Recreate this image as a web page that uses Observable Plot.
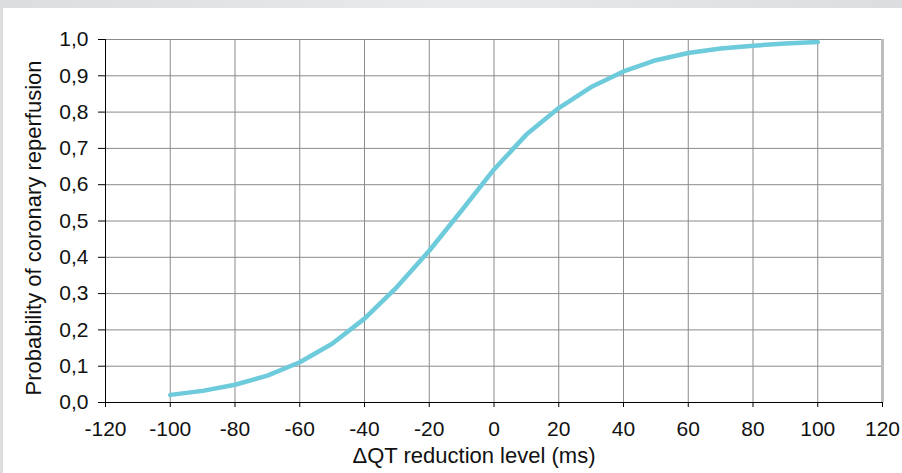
<!DOCTYPE html>
<html><head><meta charset="utf-8">
<script src="https://cdn.jsdelivr.net/npm/d3@7"></script>
<script src="https://cdn.jsdelivr.net/npm/@observablehq/plot@0.6"></script>
<style>
html,body{margin:0;padding:0;background:#fff;}
#wrap{position:relative;width:902px;height:473px;overflow:hidden;}
#topband{position:absolute;left:0;top:0;width:902px;height:8px;background:linear-gradient(to right,#dcdddf,#e9eaeb 50%,#dcdddf);}
#leftband{position:absolute;left:0;top:0;width:3px;height:473px;background:#dcdddf;}
#chart svg g[aria-label="y-axis tick label"], #chart svg g[aria-label="x-axis tick label"] {font-size:21px;}
</style></head><body>
<div id="wrap"><div id="chart"></div><div id="topband"></div><div id="leftband"></div></div>
<script>
const deltaQT = [-100,-90,-80,-70,-60,-50,-40,-30,-20,-10,0,10,20,30,40,50,60,70,80,90,100];
const probability = [0.021,0.032,0.049,0.074,0.111,0.162,0.231,0.318,0.418,0.529,0.642,0.738,0.811,0.869,0.912,0.943,0.963,0.975,0.983,0.989,0.993];
const xTicks = [-120,-100,-80,-60,-40,-20,0,20,40,60,80,100,120];
const yTicks = [0,0.1,0.2,0.3,0.4,0.5,0.6,0.7,0.8,0.9,1.0];
const xTitle = "\u0394QT reduction level (ms)";
const yTitle = "Probability of coronary reperfusion";

const data = deltaQT.map((x, i) => ({x, y: probability[i]}));
const font = "'Liberation Sans', Arial, sans-serif";

const chart = Plot.plot({
  width: 902,
  height: 473,
  marginLeft: 105,
  marginRight: 20,
  marginTop: 39,
  marginBottom: 71,
  style: {fontFamily: font, background: "transparent", color: "#111"},
  x: {domain: [-120, 120]},
  y: {domain: [0, 1]},
  marks: [
    Plot.ruleX(xTicks.filter(d => d > -120 && d < 120), {stroke: "#8a8a8a", strokeWidth: 1}),
    Plot.ruleY(yTicks.filter(d => d > 0), {stroke: "#8a8a8a", strokeWidth: 1}),
    Plot.ruleX([120], {stroke: "#bdbdbd", strokeWidth: 3}),
    Plot.line(data, {x: "x", y: "y", stroke: "#6dcbdb", strokeWidth: 4.5, curve: "linear"}),
    Plot.ruleY([0], {stroke: "#000", strokeWidth: 1}),
    Plot.ruleX([-120], {stroke: "#000", strokeWidth: 1}),
    Plot.axisY({ticks: yTicks, tickSize: 7, tickPadding: 10, fontSize: 21, label: null,
      tickFormat: d => d.toFixed(1).replace(".", ","), stroke: "#000"}),
    Plot.axisX({ticks: xTicks, tickSize: 5, tickPadding: 14, fontSize: 21, label: null,
      tickFormat: d => String(d), stroke: "#000"}),
    Plot.text([xTitle], {frameAnchor: "bottom", dy: 60, dx: -20, fontSize: 22, fill: "#111", text: d => d}),
    Plot.text([yTitle], {frameAnchor: "left", textAnchor: "middle", dx: -72, dy: 7, rotate: -90, fontSize: 22, fill: "#111", text: d => d})
  ]
});
document.getElementById("chart").appendChild(chart);
</script>
</body></html>
